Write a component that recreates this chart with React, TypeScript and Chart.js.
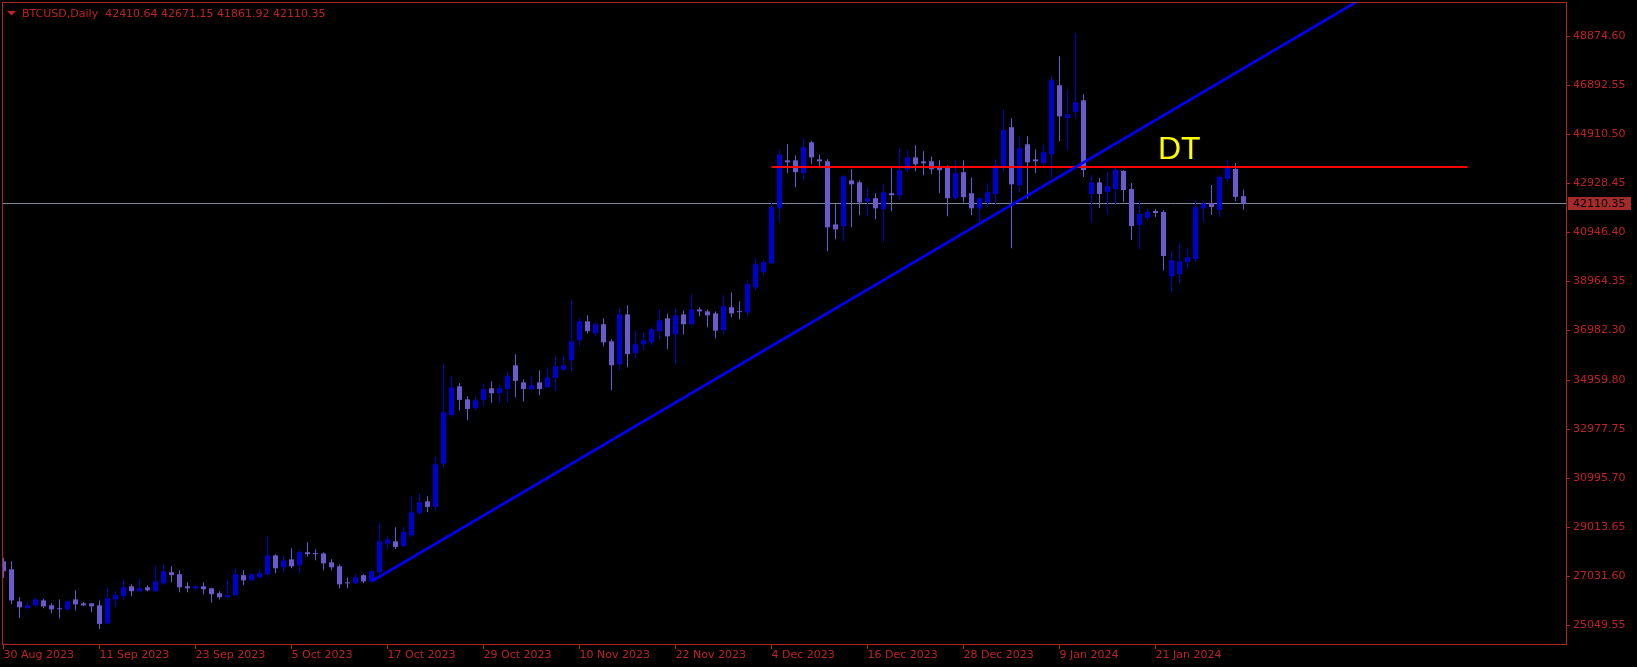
import React, { useEffect, useRef } from 'react';
import { Chart, registerables } from 'chart.js';

Chart.register(...registerables);

// ---- Data (daily candles, 30 Aug 2023 .. 3 Feb 2024, bar index 0..155) ----
const opens = [
  27640, 27320, 26020, 25750, 25860, 26060, 25860, 25740, 25700, 26100,
  25940, 25940, 25860, 25130, 26100, 26240, 26630, 26430, 26590, 26430,
  26750, 27200, 27120, 26630, 26550, 26630, 26550, 26350, 26190, 26270,
  27080, 26870, 26990, 27120, 27880, 27400, 27720, 27480, 28010, 27960,
  27960, 27600, 27440, 26790, 26750, 27080, 26830, 27200, 28360, 28450,
  28260, 28690, 29600, 30070, 29840, 31590, 33560, 34720, 34190, 33840,
  34170, 34640, 34440, 34610, 35570, 34880, 34600, 34880, 34680, 35060,
  35380, 35780, 36580, 37350, 36860, 37230, 36540, 35610, 37630, 36060,
  36420, 36500, 36950, 37470, 36820, 37630, 37230, 37830, 37750, 37670,
  36990, 37920, 37750, 37710, 38720, 39340, 39700, 41920, 43860, 43860,
  43340, 44590, 43900, 43820, 41270, 41190, 43050, 42970, 42200, 42330,
  41880, 42530, 42450, 43500, 43980, 43820, 43820, 43580, 43620, 42330,
  43380, 42530, 41920, 42160, 42490, 43580, 45200, 42850, 44510, 43900,
  43740, 44100, 46900, 45570, 45820, 46290, 42500, 42970, 42580, 42700,
  43430, 42700, 41250, 41530, 41810, 41770, 39170, 39250, 39740, 39860,
  41920, 42140, 41850, 43110, 43510, 42410.64,
];
const highs = [
  27790, 27640, 26190, 26000, 26170, 26130, 25940, 26100, 26060, 26470,
  26000, 25950, 26060, 26590, 26430, 26910, 26710, 26950, 26670, 27440,
  27520, 27440, 27280, 26790, 26670, 26790, 26570, 26430, 26910, 27360,
  27280, 27150, 27320, 28650, 27930, 27880, 28170, 28090, 28410, 28130,
  28010, 27720, 27520, 26990, 27120, 27120, 27280, 29220, 28650, 29020,
  29030, 30270, 30380, 30270, 31860, 35610, 35150, 34850, 34320, 34290,
  34810, 34920, 34760, 35290, 36020, 35000, 35130, 35370, 35450, 35930,
  35970, 38200, 37470, 37590, 37310, 37470, 36620, 37880, 38000, 36990,
  36900, 37110, 37830, 37670, 37880, 37790, 38450, 37920, 37830, 37750,
  38400, 38520, 38160, 39010, 39900, 39850, 42160, 44270, 44510, 44060,
  44750, 44650, 44100, 43900, 42080, 43260, 43500, 43050, 42770, 42530,
  42890, 43540, 44350, 44270, 44470, 44230, 44020, 43860, 43660, 43860,
  43860, 43170, 42370, 42930, 43900, 45920, 45560, 44830, 44830, 44310,
  44470, 47260, 48070, 46730, 49000, 46530, 43270, 43150, 43390, 43590,
  43470, 42940, 42180, 41890, 41890, 41850, 40180, 40550, 40300, 42280,
  42260, 42860, 43270, 43870, 43750, 42671.15,
];
const lows = [
  26970, 25910, 25350, 25710, 25810, 25740, 25540, 25340, 25630, 25660,
  25820, 25580, 24900, 25100, 25780, 26100, 26230, 26410, 26430, 26390,
  26670, 26790, 26390, 26390, 26470, 26310, 25980, 26100, 26145, 26230,
  26670, 26850, 26950, 27080, 27160, 27200, 27360, 27160, 27840, 27680,
  27280, 27280, 26550, 26550, 26720, 26750, 26790, 27120, 28120, 28140,
  28210, 28600, 29500, 29640, 29730, 31420, 33480, 33750, 33350, 33750,
  33910, 34050, 34050, 34070, 34280, 34110, 34560, 34360, 34640, 34530,
  35350, 35330, 36340, 36860, 36740, 36340, 34560, 35370, 35490, 35850,
  36180, 36380, 36620, 36220, 35610, 36820, 37190, 37550, 37110, 36660,
  36820, 37510, 37430, 37550, 38600, 39210, 39660, 41350, 43340, 42770,
  43050, 43700, 43540, 40180, 40670, 40590, 41150, 41640, 41600, 41480,
  40550, 41800, 42240, 43380, 43420, 43260, 43300, 42530, 41600, 42280,
  42160, 41640, 41350, 41960, 42040, 43380, 40300, 42570, 42320, 43340,
  43670, 43150, 44640, 44280, 45570, 43190, 41370, 41930, 41690, 42050,
  42180, 40640, 40270, 41450, 41560, 39410, 38520, 38890, 39490, 39780,
  41370, 41650, 41570, 43030, 42220, 41861.92,
];
const closes = [
  27240, 26060, 25780, 25860, 26100, 25820, 25700, 25700, 26020, 25900,
  25860, 25820, 25110, 26150, 26270, 26590, 26430, 26550, 26470, 26830,
  27240, 27080, 26590, 26550, 26630, 26510, 26310, 26190, 26270, 27120,
  26870, 27120, 27160, 27880, 27360, 27680, 27440, 28010, 27930, 27930,
  27560, 27400, 26710, 26750, 26990, 26830, 27240, 28450, 28520, 28220,
  28820, 29620, 30030, 29840, 31570, 33670, 34670, 34170, 33800, 34150,
  34600, 34440, 34640, 35130, 34940, 34610, 34760, 34610, 35080, 35530,
  35570, 36540, 37350, 36950, 37230, 36500, 35570, 37630, 36020, 36420,
  36580, 37030, 37390, 36740, 37590, 37230, 37830, 37750, 37590, 36970,
  37960, 37670, 37720, 38850, 39660, 39740, 41960, 44100, 43780, 43380,
  44390, 43980, 43820, 41150, 41070, 43210, 42890, 42160, 42330, 41920,
  42570, 42450, 43460, 43980, 43700, 43740, 43500, 43460, 42330, 43340,
  42370, 41920, 42330, 42570, 43660, 45080, 42890, 44350, 43780, 43820,
  44190, 47100, 45640, 45720, 46210, 43470, 42970, 42500, 42820, 43470,
  42660, 41200, 41690, 41770, 41730, 39990, 39820, 39780, 39940, 41960,
  42120, 41970, 43190, 43550, 42380, 42110.35,
];

const xTickIndex = [0, 12, 24, 36, 48, 60, 72, 84, 96, 108, 120, 132, 144];
const xTickLabels = [
  '30 Aug 2023', '11 Sep 2023', '23 Sep 2023', '5 Oct 2023', '17 Oct 2023',
  '29 Oct 2023', '10 Nov 2023', '22 Nov 2023', '4 Dec 2023', '16 Dec 2023',
  '28 Dec 2023', '9 Jan 2024', '21 Jan 2024',
];
const yTickValues = [
  48874.6, 46892.55, 44910.5, 42928.45, 40946.4, 38964.35, 36982.3,
  34959.8, 32977.75, 30995.7, 29013.65, 27031.6, 25049.55,
];

// Drawn objects
const trendLinePoints = [
  { x: 46, y: 26830 },
  { x: 195, y: 55200 },
];
const resistanceLevel = 43590;
const resistanceFrom = 96;
const resistanceTo = 183;
const dtLabel = { text: 'DT', x: 144.3, y: 43914 };
const symbolTitle = 'BTCUSD,Daily';

const X_MIN = -0.1875;
const X_MAX = 195.4375;
const Y_MIN = 24256;
const Y_MAX = 50265;

const BULL = '#0000cd';
const BEAR = '#6a5acd';
const AXIS_RED = '#b22222';
const TEXT_RED = '#c02222';
const FONT = 'DejaVu Sans';

export default function App() {
  const canvasRef = useRef<HTMLCanvasElement | null>(null);

  useEffect(() => {
    const canvas = canvasRef.current;
    if (!canvas) return;

    const idx = closes.map((_, i) => i);
    const bull = idx.filter((i) => closes[i] >= opens[i]);
    const bear = idx.filter((i) => closes[i] < opens[i]);
    const bodyData = (ids: number[]) => ids.map((i) => ({ x: i, y: [opens[i], closes[i]] }));
    const wickData = (ids: number[]) => ids.map((i) => ({ x: i, y: [lows[i], highs[i]] }));
    const last = closes.length - 1;

    const barCommon = {
      type: 'bar' as const,
      grouped: false,
      borderWidth: 0,
      inflateAmount: 0,
      minBarLength: 1,
    };

    const mt4Plugin = {
      id: 'mt4',
      beforeDatasetsDraw(chart: any) {
        const { ctx, chartArea, scales } = chart;
        const py = Math.floor(scales.y.getPixelForValue(closes[last])) + 0.5;
        ctx.save();
        ctx.strokeStyle = '#778899';
        ctx.lineWidth = 1;
        ctx.beginPath();
        ctx.moveTo(chartArea.left, py);
        ctx.lineTo(chartArea.right, py);
        ctx.stroke();
        ctx.restore();
      },
      afterDatasetsDraw(chart: any) {
        const { ctx, scales } = chart;
        ctx.save();
        ctx.fillStyle = '#ffff00';
        ctx.font = '32px "Liberation Sans", Arial, sans-serif';
        ctx.textAlign = 'left';
        ctx.textBaseline = 'alphabetic';
        ctx.fillText(dtLabel.text, scales.x.getPixelForValue(dtLabel.x), scales.y.getPixelForValue(dtLabel.y));
        ctx.restore();
      },
      afterDraw(chart: any) {
        const { ctx, chartArea, scales } = chart;
        ctx.save();
        // frame
        ctx.strokeStyle = AXIS_RED;
        ctx.lineWidth = 1;
        ctx.strokeRect(
          chartArea.left + 0.5,
          chartArea.top + 0.5,
          chartArea.right - chartArea.left - 1,
          chartArea.bottom - chartArea.top - 1,
        );
        // title
        ctx.fillStyle = TEXT_RED;
        ctx.beginPath();
        ctx.moveTo(7, 11);
        ctx.lineTo(16, 11);
        ctx.lineTo(11.5, 15.5);
        ctx.closePath();
        ctx.fill();
        ctx.font = `11px "${FONT}"`;
        ctx.textAlign = 'left';
        ctx.textBaseline = 'alphabetic';
        const title = `${symbolTitle}  ${opens[last].toFixed(2)} ${highs[last].toFixed(2)} ${lows[last].toFixed(2)} ${closes[last].toFixed(2)}`;
        ctx.fillText(title, 22, 17);
        // current price box
        const row = Math.floor(scales.y.getPixelForValue(closes[last]));
        ctx.fillStyle = '#a52a2a';
        ctx.fillRect(chartArea.right + 1, row - 6, 63, 13);
        ctx.fillStyle = '#000000';
        ctx.textBaseline = 'middle';
        ctx.fillText(closes[last].toFixed(2), chartArea.right + 6, row + 1);
        ctx.restore();
      },
    };

    const chart = new Chart(canvas, {
      type: 'bar',
      data: {
        datasets: [
          {
            type: 'line',
            data: trendLinePoints,
            borderColor: '#0000ff',
            borderWidth: 2.6,
            pointRadius: 0,
            clip: 0,
            order: 0,
          } as any,
          {
            type: 'line',
            data: [
              { x: resistanceFrom, y: resistanceLevel },
              { x: resistanceTo, y: resistanceLevel },
            ],
            borderColor: '#ff0000',
            borderWidth: 2,
            pointRadius: 0,
            clip: 0,
            order: 0,
          } as any,
          { ...barCommon, data: bodyData(bull), backgroundColor: BULL, barThickness: 5, order: 1 } as any,
          { ...barCommon, data: bodyData(bear), backgroundColor: BEAR, barThickness: 5, order: 1 } as any,
          { ...barCommon, data: wickData(bull), backgroundColor: BULL, barThickness: 1, order: 2 } as any,
          { ...barCommon, data: wickData(bear), backgroundColor: BEAR, barThickness: 1, order: 2 } as any,
        ],
      },
      options: {
        responsive: false,
        animation: false,
        devicePixelRatio: 1,
        events: [],
        layout: { padding: { left: 2, top: 2, right: 0, bottom: 0 } },
        plugins: {
          legend: { display: false },
          tooltip: { enabled: false },
          title: { display: false },
        },
        scales: {
          x: {
            type: 'linear',
            position: 'bottom',
            min: X_MIN,
            max: X_MAX,
            offset: false,
            grid: {
              display: true,
              drawOnChartArea: false,
              drawTicks: true,
              tickLength: 4,
              color: AXIS_RED,
              lineWidth: 1,
              offset: false,
            },
            border: { display: false },
            ticks: {
              autoSkip: false,
              maxRotation: 0,
              minRotation: 0,
              align: 'start',
              padding: 0,
              color: TEXT_RED,
              font: { family: FONT, size: 11 },
              callback: (value: any) => {
                const k = xTickIndex.indexOf(Number(value));
                return k >= 0 ? xTickLabels[k] : '';
              },
            },
            afterBuildTicks: (scale: any) => {
              scale.ticks = xTickIndex.map((v) => ({ value: v }));
            },
            afterFit: (scale: any) => {
              scale.height = 22;
              scale.paddingLeft = 0;
              scale.paddingRight = 0;
              scale.paddingTop = 0;
              scale.paddingBottom = 0;
            },
          } as any,
          y: {
            type: 'linear',
            position: 'right',
            min: Y_MIN,
            max: Y_MAX,
            beginAtZero: false,
            grid: {
              display: true,
              drawOnChartArea: false,
              drawTicks: true,
              tickLength: 3,
              color: AXIS_RED,
              lineWidth: 1,
            },
            border: { display: false },
            ticks: {
              autoSkip: false,
              padding: 3,
              color: TEXT_RED,
              font: { family: FONT, size: 11 },
              callback: (value: any) => Number(value).toFixed(2),
            },
            afterBuildTicks: (scale: any) => {
              scale.ticks = yTickValues.map((v) => ({ value: v }));
            },
            afterFit: (scale: any) => {
              scale.width = 70;
              scale.paddingLeft = 0;
              scale.paddingRight = 0;
              scale.paddingTop = 0;
              scale.paddingBottom = 0;
            },
          } as any,
        },
      },
      plugins: [mt4Plugin],
    } as any);

    return () => chart.destroy();
  }, []);

  return (
    <div style={{ position: 'fixed', left: 0, top: 0, width: 1637, height: 667, background: '#000000' }}>
      <canvas ref={canvasRef} width={1637} height={667} style={{ display: 'block' }} />
    </div>
  );
}
